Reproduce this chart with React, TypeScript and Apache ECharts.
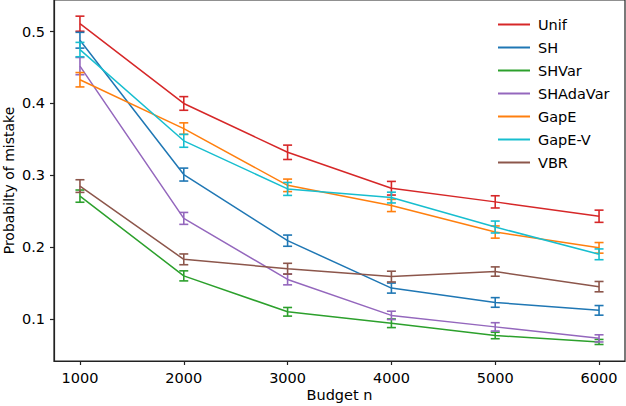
import React, { useEffect, useRef } from "react";
import * as echarts from "echarts";

const budgets = [1000, 2000, 3000, 4000, 5000, 6000];
const xTicks = [1000, 2000, 3000, 4000, 5000, 6000];
const yTicks = [0.1, 0.2, 0.3, 0.4, 0.5];

const names = ["Unif", "SH", "SHVar", "SHAdaVar", "GapE", "GapE-V", "VBR"];
const colors = ["#d62728", "#1f77b4", "#2ca02c", "#9467bd", "#ff7f0e", "#17becf", "#8c564b"];

const unifMean = [0.511, 0.4, 0.332, 0.282, 0.263, 0.243];
const unifErr = [0.0105, 0.0095, 0.01, 0.0095, 0.0085, 0.0085];
const shMean = [0.488, 0.301, 0.209, 0.143, 0.123, 0.112];
const shErr = [0.011, 0.009, 0.0078, 0.007, 0.0067, 0.0067];
const shvarMean = [0.271, 0.16, 0.11, 0.094, 0.077, 0.068];
const shvarErr = [0.0085, 0.007, 0.006, 0.006, 0.0045, 0.0035];
const shadaMean = [0.452, 0.24, 0.155, 0.105, 0.089, 0.073];
const shadaErr = [0.012, 0.0083, 0.0075, 0.0058, 0.0058, 0.005];
const gapeMean = [0.433, 0.365, 0.286, 0.258, 0.221, 0.199];
const gapeErr = [0.01, 0.008, 0.0087, 0.0085, 0.0085, 0.0074];
const gapevMean = [0.475, 0.348, 0.281, 0.269, 0.228, 0.19];
const gapevErr = [0.01, 0.009, 0.009, 0.0075, 0.0083, 0.0075];
const vbrMean = [0.285, 0.183, 0.17, 0.159, 0.166, 0.145];
const vbrErr = [0.0088, 0.0075, 0.0075, 0.0075, 0.0065, 0.0072];

const means = [unifMean, shMean, shvarMean, shadaMean, gapeMean, gapevMean, vbrMean];
const errs = [unifErr, shErr, shvarErr, shadaErr, gapeErr, gapevErr, vbrErr];

const FONT = "DejaVu Sans";
const FS = 14.5;

export default function App() {
  const ref = useRef<HTMLDivElement>(null);
  useEffect(() => {
    if (!ref.current) return;
    const chart = echarts.init(ref.current, null, { renderer: "svg" });
    const series: any[] = [];
    names.forEach((name, i) => {
      const color = colors[i];
      series.push({
        name,
        type: "line",
        data: budgets.map((b, j) => [b, means[i][j]]),
        showSymbol: false,
        symbol: "none",
        lineStyle: { color, width: 1.5 },
        itemStyle: { color },
        z: 2 + i * 2,
      });
      series.push({
        name: "err-" + name,
        type: "custom",
        data: budgets.map((b, j) => [b, means[i][j] - errs[i][j], means[i][j] + errs[i][j]]),
        encode: { x: 0, y: [1, 2] },
        z: 3 + i * 2,
        renderItem: (params: any, api: any) => {
          const x = api.value(0);
          const lo = api.coord([x, api.value(1)]);
          const hi = api.coord([x, api.value(2)]);
          const w = 4.5;
          const st = { stroke: color, lineWidth: 1.6 };
          return {
            type: "group",
            children: [
              { type: "line", shape: { x1: lo[0], y1: lo[1], x2: hi[0], y2: hi[1] }, style: st },
              { type: "line", shape: { x1: lo[0] - w, y1: lo[1], x2: lo[0] + w, y2: lo[1] }, style: st },
              { type: "line", shape: { x1: hi[0] - w, y1: hi[1], x2: hi[0] + w, y2: hi[1] }, style: st },
            ],
          };
        },
      });
    });

    chart.setOption({
      animation: false,
      backgroundColor: "#ffffff",
      textStyle: { fontFamily: FONT },
      grid: {
        left: 54, right: 1, top: 0, bottom: 45,
        containLabel: false, outerBoundsMode: "none",
        show: true, borderColor: "#222", borderWidth: 1.2,
      },
      legend: {
        data: names.map((n, i) => ({ name: n, itemStyle: { color: colors[i] } })),
        orient: "vertical",
        left: 493,
        top: 12,
        icon: "rect",
        itemWidth: 32,
        itemHeight: 2,
        itemGap: 8,
        textStyle: { fontFamily: FONT, fontSize: FS, color: "#000", lineHeight: 14, padding: [0, 0, 0, 3] },
      },
      xAxis: {
        type: "value",
        min: 750,
        max: 6250,
        name: "Budget n",
        nameLocation: "middle",
        nameGap: 26,
        nameMoveOverlap: false,
        nameTextStyle: { fontFamily: FONT, fontSize: FS, color: "#000" },
        axisLine: { show: true, lineStyle: { color: "#222", width: 1.2 } },
        axisTick: { show: true, length: 4, customValues: xTicks, lineStyle: { color: "#222", width: 1.2 } },
        axisLabel: { customValues: xTicks, fontFamily: FONT, fontSize: FS, color: "#000", margin: 9, formatter: (v: number) => String(v) },
        splitLine: { show: false },
      },
      yAxis: {
        type: "value",
        min: 0.0415,
        max: 0.544,
        name: "Probabilty of mistake",
        nameLocation: "middle",
        nameGap: 38,
        nameMoveOverlap: false,
        nameTextStyle: { fontFamily: FONT, fontSize: 14, color: "#000" },
        axisLine: { show: true, lineStyle: { color: "#222", width: 1.2 } },
        axisTick: { show: true, length: 4, customValues: yTicks, lineStyle: { color: "#222", width: 1.2 } },
        axisLabel: { customValues: yTicks, fontFamily: FONT, fontSize: FS, color: "#000", margin: 9, formatter: (v: number) => v.toFixed(1) },
        splitLine: { show: false },
      },
      series,
    });
    return () => chart.dispose();
  }, []);
  return <div ref={ref} style={{ position: "fixed", left: 0, top: 0, width: 626, height: 406 }} />;
}
